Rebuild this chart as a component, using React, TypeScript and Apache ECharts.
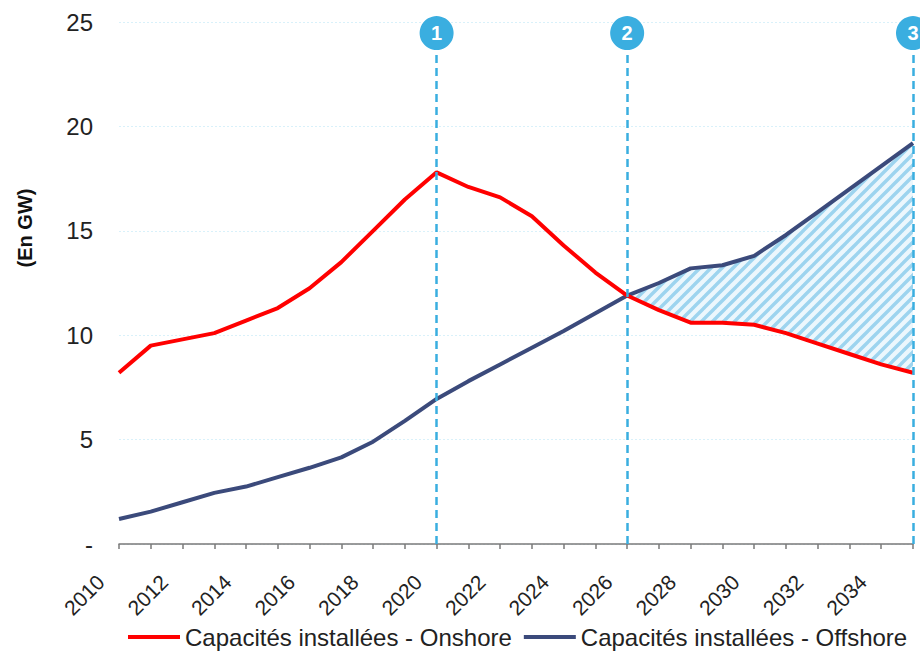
import React, { useEffect, useRef } from "react";
import * as echarts from "echarts";

const years = [
  "2010", "2011", "2012", "2013", "2014", "2015", "2016", "2017", "2018",
  "2019", "2020", "2021", "2022", "2023", "2024", "2025", "2026", "2027",
  "2028", "2029", "2030", "2031", "2032", "2033", "2034", "2035",
];
const onshore = [
  8.2, 9.5, 9.8, 10.1, 10.7, 11.3, 12.25, 13.5, 15.0, 16.5, 17.8, 17.1, 16.6,
  15.7, 14.3, 13.0, 11.9, 11.2, 10.6, 10.6, 10.5, 10.1, 9.6, 9.1, 8.6, 8.2,
];
const offshore = [
  1.2, 1.55, 2.0, 2.45, 2.75, 3.2, 3.65, 4.15, 4.9, 5.9, 6.95, 7.8, 8.6, 9.4,
  10.2, 11.05, 11.9, 12.5, 13.2, 13.35, 13.8, 14.8, 15.9, 17.0, 18.1, 19.2,
];
const milestones = ["2020", "2026", "2035"];
const milestoneLabels = ["1", "2", "3"];
const hatchStart = "2026";
const yTicks = [0, 5, 10, 15, 20, 25];

const seriesNames = [
  "Capacités installées - Onshore",
  "Capacités installées - Offshore",
];

const FONT = "'Liberation Sans', Arial, sans-serif";

export default function App() {
  const ref = useRef<HTMLDivElement>(null);

  useEffect(() => {
    document.body.style.margin = "0";
    if (!ref.current) return;
    const chart = echarts.init(ref.current, undefined, { renderer: "svg" });

    const startIdx = years.indexOf(hatchStart);
    const baseData = onshore.map((v, i) => (i >= startIdx ? v : "-"));
    const diffData = offshore.map((v, i) =>
      i >= startIdx ? +(v - onshore[i]).toFixed(3) : "-"
    );

    const tile =
      "<svg xmlns='http://www.w3.org/2000/svg' width='11' height='11'>" +
      "<rect width='11' height='11' fill='#ecf7fd'/>" +
      "<path d='M-1,1 L1,-1 M0,11 L11,0 M10,12 L12,10' stroke='#9dd4ef' stroke-width='3.4'/>" +
      "</svg>";
    const pattern: any = {
      image: "data:image/svg+xml;charset=utf-8," + encodeURIComponent(tile),
      repeat: "repeat",
      imageWidth: 11,
      imageHeight: 11,
    };

    const markerTop = 23.7;
    const circleY = 24.47;

    chart.setOption({
      animation: false,
      textStyle: { fontFamily: FONT },
      grid: { left: 119, right: 7, top: 22, bottom: 109, containLabel: false },
      legend: {
        data: seriesNames,
        left: 128,
        top: 625,
        padding: 0,
        icon: "rect",
        itemWidth: 52,
        itemHeight: 4,
        itemGap: 12,
        textStyle: { fontSize: 24, color: "#222", fontFamily: FONT },
      },
      xAxis: {
        type: "category",
        data: years,
        boundaryGap: false,
        axisLine: { show: true, lineStyle: { color: "#7a7a7a", width: 1.5 } },
        axisTick: {
          show: true,
          interval: 0,
          length: 5,
          lineStyle: { color: "#7a7a7a", width: 1.5 },
        },
        axisLabel: {
          interval: 1,
          rotate: 45,
          fontSize: 21,
          color: "#222",
          margin: 16,
          padding: [0, 26, 0, 0],
          fontFamily: FONT,
        },
        splitLine: { show: false },
      },
      yAxis: {
        type: "value",
        min: yTicks[0],
        max: yTicks[yTicks.length - 1],
        interval: 5,
        axisLine: { show: false },
        axisTick: { show: false },
        axisLabel: {
          fontSize: 24,
          color: "#222",
          margin: 26,
          fontFamily: FONT,
          formatter: (v: number) => (v === 0 ? "-" : String(v)),
        },
        splitLine: {
          show: true,
          lineStyle: { color: "#d9f1fa", width: 1, type: [2, 2] },
        },
      },
      graphic: [
        {
          type: "text",
          x: 25,
          y: 228,
          rotation: Math.PI / 2,
          style: {
            text: "(En GW)",
            fontSize: 20,
            fontWeight: "bold",
            fill: "#111",
            fontFamily: FONT,
            textAlign: "center",
            textVerticalAlign: "middle",
          },
        },
      ],
      series: [
        {
          name: "base",
          type: "line",
          stack: "band",
          data: baseData,
          symbol: "none",
          lineStyle: { width: 0, opacity: 0 },
          silent: true,
          z: 1,
        },
        {
          name: "hatch",
          type: "line",
          stack: "band",
          data: diffData,
          symbol: "none",
          lineStyle: { width: 0, opacity: 0 },
          areaStyle: { color: pattern, opacity: 1 },
          silent: true,
          z: 1,
        },
        {
          name: seriesNames[1],
          type: "line",
          data: offshore,
          symbol: "none",
          itemStyle: { color: "#3b4a7b" },
          lineStyle: { color: "#3b4a7b", width: 4 },
          z: 3,
        },
        {
          name: seriesNames[0],
          type: "line",
          data: onshore,
          symbol: "none",
          itemStyle: { color: "#ff0000" },
          lineStyle: { color: "#ff0000", width: 4 },
          z: 4,
        },
        {
          name: "markers",
          type: "line",
          data: years.map(() => "-"),
          symbol: "none",
          silent: true,
          z: 5,
          markLine: {
            silent: true,
            symbol: ["none", "none"],
            label: { show: false },
            lineStyle: { color: "#3aaee0", width: 2.5, type: [8, 5] },
            data: milestones.map((m) => [
              { coord: [m, 0] },
              { coord: [m, markerTop] },
            ]),
          },
          markPoint: {
            silent: true,
            z: 6,
            symbol: "circle",
            symbolSize: 34,
            itemStyle: { color: "#3aaee0" },
            label: {
              show: true,
              color: "#fff",
              fontSize: 20,
              fontWeight: "bold",
              fontFamily: FONT,
              formatter: (p: any) => p.name,
            },
            data: milestones.map((m, i) => ({
              name: milestoneLabels[i],
              coord: [m, circleY],
            })),
          },
        },
      ],
    });

    return () => chart.dispose();
  }, []);

  return <div ref={ref} style={{ width: 920, height: 653 }} />;
}
